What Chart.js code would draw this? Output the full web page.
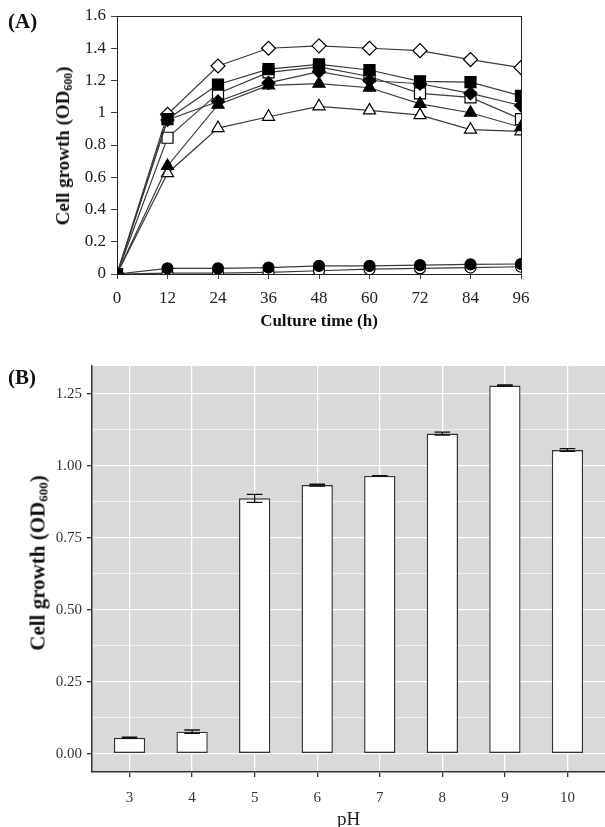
<!DOCTYPE html>
<html>
<head>
<meta charset="utf-8">
<script src="https://cdn.jsdelivr.net/npm/chart.js@4.4.1/dist/chart.umd.min.js"></script>
<style>
  body { margin: 0; background: #fff; }
  #wrap { position: relative; width: 605px; height: 827px; font-family: "Liberation Serif", serif; color: #111; }
  canvas { position: absolute; left: 0; }
  .tag { position: absolute; font-weight: bold; font-size: 21px; }
  .ytitle { position: absolute; font-weight: bold; white-space: nowrap; transform: translate(-50%, -50%) rotate(-90deg); }
  .ytitle sub { font-size: 0.62em; vertical-align: -0.25em; line-height: 0; }
</style>
</head>
<body>
<div id="wrap">
  <canvas id="growth_time" width="605" height="340" style="top:0"></canvas>
  <canvas id="growth_ph" width="605" height="487" style="top:340px"></canvas>
  <div class="tag" style="left:8px; top:9px">(A)</div>
  <div class="ytitle" style="left:63px; top:146px; font-size:19px">Cell growth (OD<sub>600</sub>)</div>
  <div class="tag" style="left:8px; top:365px">(B)</div>
  <div class="ytitle" style="left:38px; top:563px; font-size:21px">Cell growth (OD<sub>600</sub>)</div>
</div>
<script>
/*
 * Growth curves over culture time
 */

const hours = [0, 12, 24, 36, 48, 60, 72, 84, 96]

const filledSquare = [0, 0.96, 1.175, 1.27, 1.30, 1.265, 1.195, 1.19, 1.105]
const openDiamond = [0, 0.99, 1.29, 1.40, 1.415, 1.40, 1.385, 1.33, 1.28]
const openSquare = [0, 0.845, 1.12, 1.25, 1.285, 1.225, 1.12, 1.095, 0.96]
const filledDiamond = [0, 0.955, 1.07, 1.185, 1.255, 1.20, 1.18, 1.12, 1.045]
const filledTriangle = [0, 0.67, 1.05, 1.17, 1.18, 1.155, 1.055, 1.0, 0.91]
const openTriangle = [0, 0.625, 0.905, 0.975, 1.04, 1.015, 0.985, 0.895, 0.885]
const filledCircle = [0, 0.035, 0.035, 0.04, 0.05, 0.05, 0.055, 0.06, 0.062]
const openCircle = [0, 0.005, 0.005, 0.01, 0.02, 0.03, 0.035, 0.04, 0.045]

/*
 * Growth at each pH
 */

const phValues = [3, 4, 5, 6, 7, 8, 9, 10]
const phGrowth = [0.055, 0.076, 0.887, 0.933, 0.965, 1.112, 1.279, 1.055]
const phError = [0.002, 0.006, 0.014, 0.003, 0.001, 0.005, 0.002, 0.005]
const phYMajor = [0, 0.25, 0.5, 0.75, 1, 1.25]

const serif = "'Liberation Serif', serif"

function series(values, style, radius, fill) {
    return {
        data: values.map((v, i) => ({ x: hours[i], y: v })),
        borderColor: '#3a3a3a',
        borderWidth: 1.2,
        pointStyle: style,
        pointRadius: radius,
        pointBackgroundColor: fill,
        pointBorderColor: '#000',
        pointBorderWidth: 1.2,
        tension: 0
    }
}

const frameBox = {
    id: 'frameBox',
    beforeDatasetsDraw(chart) {
        const a = chart.chartArea
        const ctx = chart.ctx
        ctx.save()
        ctx.strokeStyle = '#222'
        ctx.lineWidth = 1
        ctx.strokeRect(a.left + 0.5, a.top + 0.5, a.right - a.left, a.bottom - a.top)
        ctx.restore()
    }
}

var timeCanvas = document.getElementById("growth_time")

var timeChart = new Chart(timeCanvas, {
    type: 'line',
    data: {
        datasets: [
            series(filledSquare, 'rect', 7.8, '#000'),
            series(filledDiamond, 'rectRot', 6.5, '#000'),
            series(filledTriangle, 'triangle', 7, '#000'),
            series(openSquare, 'rect', 7.8, '#fff'),
            series(openDiamond, 'rectRot', 7, '#fff'),
            series(openTriangle, 'triangle', 7, '#fff'),
            series(filledCircle, 'circle', 5.5, '#000'),
            series(openCircle, 'circle', 5.5, '#fff')
        ]
    },
    options: {
        responsive: false,
        animation: false,
        devicePixelRatio: 1,
        layout: { padding: { top: 16, right: 84, left: 0, bottom: 0 } },
        plugins: { legend: { display: false }, tooltip: { enabled: false } },
        scales: {
            x: {
                type: 'linear',
                min: 0,
                max: 96,
                afterFit(scale) { scale.height = 66 },
                ticks: { stepSize: 12, color: '#222', padding: 9, font: { family: serif, size: 17 } },
                grid: { drawOnChartArea: false, drawTicks: true, tickLength: 5, color: '#444' },
                border: { display: true, color: '#222', width: 1 },
                title: {
                    display: true,
                    text: 'Culture time (h)',
                    color: '#111',
                    padding: { top: 0, bottom: 8 },
                    font: { family: serif, size: 17, weight: 'bold' }
                }
            },
            y: {
                min: 0,
                max: 1.6,
                afterFit(scale) { scale.width = 117 },
                ticks: {
                    stepSize: 0.2,
                    color: '#222',
                    padding: 5,
                    font: { family: serif, size: 17 },
                    callback: v => String(+v.toFixed(1))
                },
                grid: { drawOnChartArea: false, drawTicks: true, tickLength: 6, color: '#444' },
                border: { display: true, color: '#222', width: 1 }
            }
        }
    },
    plugins: [frameBox]
})

/*
 * pH bar chart with grey panel and error bars
 */

const greyPanel = {
    id: 'greyPanel',
    beforeDraw(chart) {
        const a = chart.chartArea
        const ctx = chart.ctx
        ctx.save()
        ctx.fillStyle = '#d9d9d9'
        ctx.fillRect(a.left, a.top, a.right - a.left, a.bottom - a.top)
        ctx.restore()
    }
}

const errorBars = {
    id: 'errorBars',
    afterDatasetsDraw(chart) {
        const { ctx, scales: { x, y } } = chart
        ctx.save()
        ctx.strokeStyle = '#111'
        ctx.lineWidth = 1.3
        phValues.forEach((p, i) => {
            const cx = x.getPixelForValue(p)
            const half = x.getPixelForValue(p + 0.125) - cx
            const top = y.getPixelForValue(phGrowth[i] + phError[i])
            const bot = y.getPixelForValue(phGrowth[i] - phError[i])
            ctx.beginPath()
            ctx.moveTo(cx, top); ctx.lineTo(cx, bot)
            ctx.moveTo(cx - half, top); ctx.lineTo(cx + half, top)
            ctx.moveTo(cx - half, bot); ctx.lineTo(cx + half, bot)
            ctx.stroke()
        })
        ctx.restore()
    }
}

let phYTicks = []
phYMajor.forEach((v, i) => {
    phYTicks.push(v)
    if (i < phYMajor.length - 1) phYTicks.push(v + 0.125)
})

var phCanvas = document.getElementById("growth_ph")

var phChart = new Chart(phCanvas, {
    type: 'bar',
    data: {
        datasets: [{
            data: phValues.map((p, i) => ({ x: p, y: phGrowth[i] })),
            backgroundColor: '#fff',
            borderColor: '#333',
            borderWidth: 1.4,
            borderSkipped: false,
            barPercentage: 0.5,
            categoryPercentage: 1
        }]
    },
    options: {
        responsive: false,
        animation: false,
        devicePixelRatio: 1,
        layout: { padding: { top: 26, right: 0, left: 0, bottom: 0 } },
        plugins: { legend: { display: false }, tooltip: { enabled: false } },
        scales: {
            x: {
                type: 'linear',
                min: 2.4,
                max: 10.6,
                offset: false,
                afterFit(scale) { scale.height = 55 },
                afterBuildTicks(scale) { scale.ticks = phValues.map(v => ({ value: v })) },
                ticks: { color: '#333', padding: 12, font: { family: serif, size: 15 }, callback: v => String(v) },
                grid: { offset: false, color: '#fff', lineWidth: 1.3, tickColor: '#333', tickLength: 5 },
                border: { display: true, color: '#333', width: 1.5 },
                title: {
                    display: true,
                    text: 'pH',
                    color: '#222',
                    padding: { top: 0, bottom: -3 },
                    font: { family: serif, size: 19, lineHeight: 1 }
                }
            },
            y: {
                min: -0.064,
                max: 1.347,
                afterFit(scale) { scale.width = 92 },
                afterBuildTicks(scale) { scale.ticks = phYTicks.map(v => ({ value: v })) },
                ticks: {
                    color: '#333',
                    padding: 5,
                    font: { family: serif, size: 15 },
                    callback: v => phYMajor.includes(v) ? v.toFixed(2) : ''
                },
                grid: {
                    color: '#fff',
                    lineWidth: ctx => phYMajor.includes(ctx.tick && ctx.tick.value) ? 1.3 : 0.6,
                    tickColor: ctx => phYMajor.includes(ctx.tick && ctx.tick.value) ? '#333' : 'rgba(0,0,0,0)',
                    tickLength: 5
                },
                border: { display: true, color: '#333', width: 1.5 }
            }
        }
    },
    plugins: [greyPanel, errorBars]
})
</script>
</body>
</html>
